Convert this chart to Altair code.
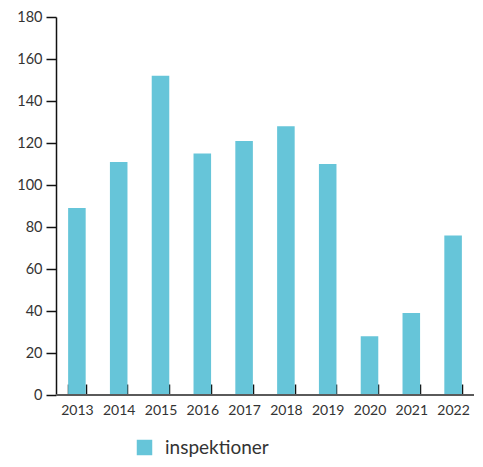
import altair as alt
import pandas as pd

years = ["2013", "2014", "2015", "2016", "2017", "2018", "2019", "2020", "2021", "2022"]
values = [89, 111, 152, 115, 121, 128, 110, 28, 39, 76]
series_name = "inspektioner"
y_ticks = [0, 20, 40, 60, 80, 100, 120, 140, 160, 180]

df = pd.DataFrame({"year": years, "value": values, "series": [series_name] * len(years)})

FONT = "Lato"
base = alt.Chart(df)

bars = base.mark_bar().encode(
    x=alt.X(
        "year:N",
        scale=alt.Scale(paddingInner=0.58, paddingOuter=0.29),
        axis=alt.Axis(
            title=None, labelAngle=0, domain=False, tickBand="extent",
            offset=-11, tickSize=11, tickColor="#111", tickWidth=1.5,
            labelPadding=8, labelFont=FONT, labelFontSize=14, labelColor="#333",
        ),
    ),
    y=alt.Y(
        "value:Q",
        scale=alt.Scale(domain=[0, 180]),
        axis=alt.Axis(
            title=None, values=y_ticks, grid=False, tickSize=10,
            tickColor="#111", tickWidth=1.5, domainColor="#111", domainWidth=1.5,
            labelPadding=4, labelFont=FONT, labelFontSize=14.5, labelColor="#333",
        ),
    ),
    color=alt.Color(
        "series:N",
        scale=alt.Scale(range=["#66c5d9"]),
        legend=alt.Legend(
            title=None, orient="none", legendX=79, legendY=421,
            symbolType="square", symbolSize=240, symbolStrokeWidth=0,
            labelFont=FONT, labelFontSize=19, labelColor="#333", labelOffset=11,
        ),
    ),
)

baseline = base.mark_rule(color="#5a5a5a", strokeWidth=2).encode(y=alt.datum(0))

chart = (
    alt.layer(bars, baseline)
    .properties(
        width=418, height=378,
        autosize=alt.AutoSizeParams(type="none"),
        padding={"left": 48, "top": 9, "right": 1, "bottom": 64},
    )
    .configure_view(stroke=None)
)

chart.save("out.html", embed_options={"renderer": "svg", "actions": False})
